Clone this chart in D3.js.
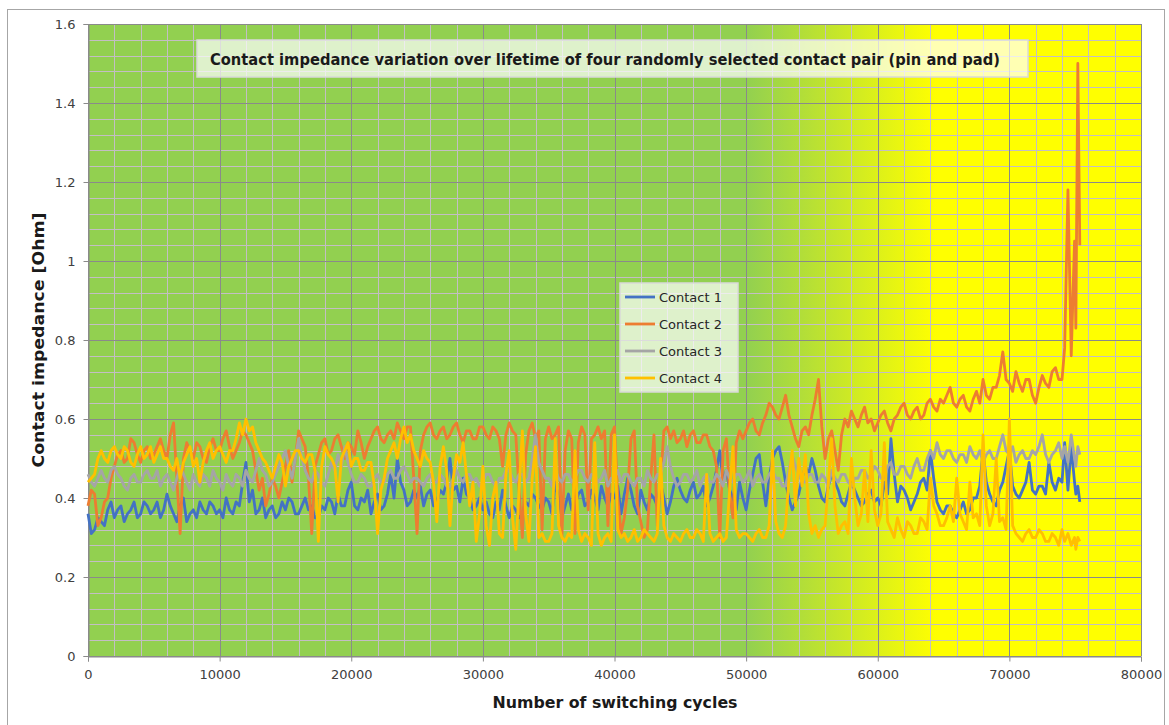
<!DOCTYPE html>
<html>
<head>
<meta charset="utf-8">
<script src="https://cdn.jsdelivr.net/npm/d3@7"></script>
<style>
  body { margin: 0; background: #ffffff; }
  text { font-family: "DejaVu Sans", "Lato", sans-serif; }
</style>
</head>
<body>
<div id="chart"></div>
<script>
// Sampling of the switching cycles (every 250 cycles, denser near the end)
const cycles = d3.range(0, 74001, 250).concat([74200, 74450, 74700, 74950, 75050, 75200, 75350]);

const seriesNames = ["Contact 1", "Contact 2", "Contact 3", "Contact 4"];
const seriesColors = ["#4472c4", "#ed7d31", "#a5a5a5", "#ffc000"];

// Contact impedance [Ohm]
const contact1 = [
  0.36,0.31, 0.32,0.35, 0.34,0.33, 0.37,0.39, 0.35,0.37, 0.38,0.34, 0.36,0.37, 0.39,0.35, 0.36,0.39, 0.38,0.36,
  0.37,0.39, 0.35,0.37, 0.41,0.38, 0.36,0.34, 0.38,0.40, 0.34,0.36, 0.37,0.35, 0.39,0.37, 0.36,0.39, 0.38,0.36,
  0.37,0.35, 0.40,0.37, 0.36,0.39, 0.38,0.44, 0.49,0.39, 0.42,0.36, 0.37,0.40, 0.35,0.37, 0.38,0.35, 0.36,0.39,
  0.37,0.40, 0.39,0.36, 0.36,0.38, 0.40,0.37, 0.38,0.35, 0.35,0.38, 0.37,0.40, 0.39,0.36, 0.41,0.38, 0.38,0.42,
  0.44,0.38, 0.37,0.40, 0.39,0.42, 0.36,0.39, 0.41,0.37, 0.38,0.41, 0.46,0.40, 0.50,0.44, 0.42,0.38, 0.39,0.42,
  0.40,0.43, 0.38,0.41, 0.42,0.38, 0.39,0.42, 0.41,0.44, 0.50,0.42, 0.43,0.39, 0.45,0.41, 0.40,0.37, 0.38,0.40,
  0.37,0.39, 0.36,0.35, 0.39,0.37, 0.42,0.38, 0.35,0.38, 0.37,0.35, 0.36,0.39, 0.38,0.41, 0.40,0.38, 0.37,0.40,
  0.39,0.36, 0.44,0.40, 0.35,0.38, 0.41,0.37, 0.38,0.41, 0.42,0.38, 0.39,0.42, 0.40,0.37, 0.43,0.40, 0.38,0.41,
  0.40,0.43, 0.36,0.41, 0.45,0.42, 0.38,0.36, 0.42,0.39, 0.37,0.41, 0.40,0.38, 0.44,0.40, 0.36,0.39, 0.43,0.45,
  0.42,0.40, 0.39,0.42, 0.44,0.40, 0.41,0.43, 0.38,0.40, 0.43,0.47, 0.52,0.44, 0.47,0.42, 0.40,0.37, 0.44,0.40,
  0.37,0.42, 0.46,0.50, 0.51,0.44, 0.38,0.45, 0.50,0.52, 0.53,0.49, 0.44,0.40, 0.37,0.39, 0.41,0.45, 0.48,0.46,
  0.50,0.47, 0.43,0.40, 0.39,0.43, 0.46,0.44, 0.42,0.39, 0.38,0.41, 0.44,0.42, 0.40,0.38, 0.39,0.41, 0.42,0.39,
  0.40,0.38, 0.44,0.41, 0.55,0.46, 0.39,0.43, 0.42,0.40, 0.37,0.39, 0.41,0.44, 0.45,0.42, 0.52,0.45, 0.39,0.37,
  0.36,0.38, 0.38,0.36, 0.35,0.37, 0.39,0.36, 0.37,0.40, 0.40,0.43, 0.52,0.44, 0.41,0.39, 0.38,0.42, 0.44,0.48,
  0.52,0.43, 0.41,0.40, 0.42,0.44, 0.49,0.42, 0.41,0.43, 0.43,0.41, 0.49,0.44, 0.42,0.45, 0.44,
  0.54, 0.42, 0.53, 0.44, 0.41, 0.43, 0.39
];

const contact2 = [
  0.38,0.42, 0.41,0.33, 0.35,0.39, 0.40,0.45, 0.48,0.51, 0.52,0.49, 0.50,0.55, 0.54,0.51, 0.49,0.52, 0.53,0.50,
  0.51,0.53, 0.55,0.52, 0.50,0.56, 0.59,0.45, 0.31,0.50, 0.54,0.52, 0.50,0.54, 0.53,0.50, 0.49,0.53, 0.55,0.52,
  0.52,0.55, 0.57,0.53, 0.50,0.52, 0.54,0.57, 0.56,0.54, 0.52,0.47, 0.42,0.45, 0.38,0.41, 0.45,0.43, 0.40,0.44,
  0.48,0.52, 0.44,0.50, 0.57,0.55, 0.53,0.45, 0.31,0.48, 0.51,0.54, 0.55,0.51, 0.52,0.55, 0.56,0.53, 0.50,0.54,
  0.53,0.51, 0.57,0.54, 0.50,0.53, 0.55,0.57, 0.58,0.55, 0.54,0.56, 0.57,0.55, 0.59,0.57, 0.55,0.58, 0.58,0.45,
  0.31,0.52, 0.56,0.58, 0.59,0.56, 0.55,0.57, 0.58,0.55, 0.56,0.58, 0.59,0.56, 0.54,0.57, 0.57,0.55, 0.55,0.58,
  0.58,0.56, 0.55,0.58, 0.57,0.55, 0.48,0.56, 0.59,0.57, 0.56,0.42, 0.30,0.51, 0.57,0.59, 0.55,0.57, 0.32,0.55,
  0.58,0.55, 0.56,0.58, 0.30,0.52, 0.57,0.55, 0.31,0.54, 0.58,0.56, 0.37,0.55, 0.56,0.58, 0.55,0.57, 0.33,0.56,
  0.58,0.40, 0.31,0.35, 0.42,0.55, 0.57,0.38, 0.34,0.30, 0.32,0.45, 0.56,0.33, 0.44,0.57, 0.58,0.55, 0.57,0.54,
  0.55,0.57, 0.53,0.56, 0.57,0.54, 0.54,0.56, 0.56,0.53, 0.52,0.48, 0.30,0.52, 0.55,0.41, 0.35,0.54, 0.57,0.55,
  0.57,0.59, 0.60,0.57, 0.56,0.59, 0.61,0.64, 0.63,0.61, 0.60,0.63, 0.66,0.61, 0.58,0.55, 0.53,0.57, 0.58,0.56,
  0.61,0.65, 0.70,0.58, 0.50,0.55, 0.57,0.52, 0.47,0.56, 0.60,0.58, 0.62,0.60, 0.58,0.61, 0.63,0.59, 0.60,0.57,
  0.59,0.61, 0.62,0.59, 0.57,0.60, 0.61,0.63, 0.64,0.61, 0.60,0.62, 0.63,0.60, 0.61,0.64, 0.65,0.63, 0.62,0.65,
  0.64,0.66, 0.68,0.64, 0.63,0.65, 0.66,0.63, 0.62,0.65, 0.67,0.64, 0.70,0.66, 0.65,0.68, 0.68,0.71, 0.77,0.70,
  0.69,0.67, 0.72,0.69, 0.67,0.70, 0.70,0.66, 0.64,0.68, 0.71,0.69, 0.68,0.72, 0.73,0.70, 0.70,
  0.78, 1.18, 0.76, 1.05, 0.83, 1.50, 1.04
];

const contact3 = [
  0.46,0.44, 0.43,0.45, 0.47,0.45, 0.44,0.47, 0.48,0.46, 0.45,0.43, 0.42,0.45, 0.46,0.44, 0.44,0.46, 0.47,0.45,
  0.45,0.47, 0.43,0.45, 0.46,0.44, 0.42,0.45, 0.48,0.46, 0.44,0.42, 0.46,0.44, 0.43,0.46, 0.45,0.43, 0.47,0.45,
  0.44,0.42, 0.46,0.44, 0.43,0.46, 0.45,0.43, 0.47,0.45, 0.44,0.47, 0.50,0.47, 0.46,0.43, 0.44,0.46, 0.48,0.50,
  0.52,0.48, 0.45,0.50, 0.55,0.50, 0.47,0.45, 0.44,0.47, 0.46,0.44, 0.43,0.46, 0.49,0.47, 0.51,0.48, 0.53,0.49,
  0.46,0.44, 0.44,0.46, 0.45,0.43, 0.43,0.45, 0.46,0.44, 0.44,0.46, 0.47,0.45, 0.45,0.47, 0.48,0.46, 0.44,0.45,
  0.45,0.44, 0.43,0.45, 0.46,0.44, 0.44,0.46, 0.45,0.43, 0.43,0.45, 0.47,0.45, 0.44,0.46, 0.46,0.44, 0.45,0.43,
  0.44,0.46, 0.46,0.44, 0.43,0.45, 0.45,0.47, 0.47,0.45, 0.44,0.46, 0.46,0.44, 0.45,0.50, 0.56,0.49, 0.47,0.45,
  0.45,0.43, 0.47,0.45, 0.44,0.46, 0.46,0.44, 0.45,0.47, 0.47,0.45, 0.44,0.46, 0.46,0.44, 0.45,0.47, 0.43,0.45,
  0.45,0.47, 0.44,0.46, 0.46,0.44, 0.43,0.45, 0.45,0.43, 0.47,0.45, 0.44,0.46, 0.46,0.49, 0.53,0.48, 0.45,0.43,
  0.44,0.46, 0.46,0.44, 0.45,0.47, 0.43,0.45, 0.46,0.44, 0.44,0.46, 0.45,0.43, 0.47,0.45, 0.44,0.46, 0.46,0.44,
  0.45,0.47, 0.43,0.45, 0.46,0.44, 0.44,0.46, 0.47,0.45, 0.45,0.43, 0.43,0.47, 0.51,0.48, 0.46,0.44, 0.44,0.46,
  0.46,0.44, 0.44,0.46, 0.45,0.43, 0.47,0.45, 0.44,0.46, 0.46,0.44, 0.43,0.45, 0.45,0.47, 0.47,0.45, 0.46,0.48,
  0.47,0.45, 0.45,0.48, 0.49,0.46, 0.46,0.48, 0.48,0.46, 0.45,0.48, 0.50,0.47, 0.47,0.50, 0.52,0.50, 0.54,0.51,
  0.50,0.52, 0.52,0.50, 0.49,0.51, 0.51,0.49, 0.53,0.51, 0.50,0.52, 0.49,0.51, 0.52,0.50, 0.50,0.53, 0.56,0.52,
  0.51,0.53, 0.49,0.51, 0.52,0.50, 0.50,0.52, 0.51,0.53, 0.56,0.51, 0.49,0.51, 0.52,0.54, 0.50,
  0.53, 0.49, 0.56, 0.50, 0.48, 0.53, 0.51
];

const contact4 = [
  0.44,0.45, 0.46,0.50, 0.52,0.50, 0.49,0.52, 0.53,0.51, 0.50,0.53, 0.52,0.49, 0.48,0.51, 0.53,0.50, 0.51,0.53,
  0.49,0.51, 0.53,0.50, 0.50,0.48, 0.47,0.50, 0.45,0.49, 0.51,0.53, 0.48,0.50, 0.44,0.49, 0.52,0.54, 0.50,0.52,
  0.53,0.51, 0.49,0.52, 0.52,0.55, 0.59,0.56, 0.60,0.57, 0.58,0.54, 0.52,0.50, 0.49,0.47, 0.45,0.48, 0.51,0.49,
  0.43,0.48, 0.50,0.52, 0.52,0.50, 0.49,0.51, 0.51,0.47, 0.29,0.48, 0.53,0.51, 0.50,0.48, 0.39,0.50, 0.52,0.54,
  0.48,0.50, 0.50,0.47, 0.47,0.49, 0.49,0.43, 0.31,0.42, 0.45,0.50, 0.52,0.54, 0.50,0.55, 0.58,0.54, 0.56,0.52,
  0.50,0.48, 0.52,0.50, 0.49,0.44, 0.34,0.48, 0.53,0.47, 0.33,0.45, 0.51,0.49, 0.54,0.46, 0.38,0.44, 0.29,0.36,
  0.48,0.33, 0.28,0.40, 0.44,0.31, 0.30,0.46, 0.52,0.35, 0.27,0.42, 0.57,0.36, 0.29,0.45, 0.53,0.30, 0.31,0.29,
  0.29,0.31, 0.55,0.33, 0.30,0.29, 0.31,0.30, 0.52,0.32, 0.29,0.31, 0.30,0.28, 0.54,0.31, 0.28,0.30, 0.31,0.29,
  0.56,0.32, 0.30,0.31, 0.29,0.30, 0.32,0.29, 0.30,0.32, 0.31,0.30, 0.29,0.31, 0.50,0.33, 0.30,0.29, 0.31,0.30,
  0.29,0.31, 0.32,0.30, 0.30,0.32, 0.31,0.29, 0.46,0.31, 0.29,0.30, 0.31,0.29, 0.30,0.42, 0.53,0.32, 0.30,0.31,
  0.31,0.30, 0.29,0.31, 0.32,0.30, 0.30,0.33, 0.52,0.34, 0.31,0.30, 0.33,0.45, 0.52,0.38, 0.50,0.43, 0.51,0.36,
  0.31,0.33, 0.30,0.32, 0.33,0.44, 0.55,0.38, 0.31,0.33, 0.34,0.31, 0.50,0.40, 0.33,0.36, 0.47,0.34, 0.52,0.37,
  0.33,0.36, 0.54,0.34, 0.32,0.30, 0.35,0.32, 0.30,0.34, 0.33,0.31, 0.31,0.35, 0.34,0.32, 0.45,0.38, 0.36,0.33,
  0.33,0.35, 0.38,0.34, 0.45,0.36, 0.34,0.32, 0.44,0.35, 0.36,0.33, 0.56,0.38, 0.33,0.36, 0.50,0.34, 0.35,0.32,
  0.60,0.33, 0.31,0.30, 0.29,0.31, 0.32,0.30, 0.30,0.32, 0.31,0.29, 0.29,0.31, 0.30,0.28, 0.32,
  0.29, 0.31, 0.28, 0.30, 0.27, 0.30, 0.29
];

const seriesValues = [contact1, contact2, contact3, contact4];

const xTicks = [0, 10000, 20000, 30000, 40000, 50000, 60000, 70000, 80000];
const yTicks = [0, 0.2, 0.4, 0.6, 0.8, 1.0, 1.2, 1.4, 1.6];

const titleText = "Contact impedance variation over lifetime of four randomly selected contact pair (pin and pad)";

// Dimensions
const width = 1169;
const height = 725;
const plot = { left: 88, right: 1141, top: 24, bottom: 656 };

const svg = d3.select("#chart")
    .append("svg")
    .attr("width", width)
    .attr("height", height);

// Scales
const x = d3.scaleLinear().domain([0, 80000]).range([plot.left, plot.right]);
const y = d3.scaleLinear().domain([0, 1.6]).range([plot.bottom, plot.top]);

// Outer chart frame
svg.append("rect")
    .attr("x", 7.5)
    .attr("y", 9.5)
    .attr("width", 1157)
    .attr("height", 740)
    .attr("fill", "#ffffff")
    .attr("stroke", "#a6a6a6")
    .attr("stroke-width", 1);

// Green -> yellow background
const defs = svg.append("defs");
const grad = defs.append("linearGradient")
    .attr("id", "bg")
    .attr("gradientUnits", "userSpaceOnUse")
    .attr("x1", x(50000)).attr("x2", x(64500))
    .attr("y1", 0).attr("y2", 0);
grad.append("stop").attr("offset", 0).attr("stop-color", "#92d050");
grad.append("stop").attr("offset", 1).attr("stop-color", "#ffff00");

svg.append("rect")
    .attr("x", plot.left)
    .attr("y", plot.top)
    .attr("width", plot.right - plot.left)
    .attr("height", plot.bottom - plot.top)
    .attr("fill", "url(#bg)");

// Minor gridlines
const minorX = d3.range(0, 80001, 2000).filter(d => d % 10000 !== 0);
const minorY = d3.range(0, 41).map(i => +(i * 0.04).toFixed(2)).filter(d => Math.abs(d / 0.2 - Math.round(d / 0.2)) > 1e-6);

const grid = svg.append("g");
grid.selectAll(".mx").data(minorX).join("line")
    .attr("x1", d => Math.round(x(d)) + 0.5).attr("x2", d => Math.round(x(d)) + 0.5)
    .attr("y1", plot.top).attr("y2", plot.bottom)
    .attr("stroke", "#c3bec4").attr("stroke-width", 1);
grid.selectAll(".my").data(minorY).join("line")
    .attr("x1", plot.left).attr("x2", plot.right)
    .attr("y1", d => Math.round(y(d)) + 0.5).attr("y2", d => Math.round(y(d)) + 0.5)
    .attr("stroke", "#c3bec4").attr("stroke-width", 1);

// Major gridlines
grid.selectAll(".Mx").data(xTicks).join("line")
    .attr("x1", d => Math.round(x(d)) + 0.5).attr("x2", d => Math.round(x(d)) + 0.5)
    .attr("y1", plot.top).attr("y2", plot.bottom)
    .attr("stroke", "#8a8a8a").attr("stroke-width", 1);
grid.selectAll(".My").data(yTicks).join("line")
    .attr("x1", plot.left).attr("x2", plot.right)
    .attr("y1", d => Math.round(y(d)) + 0.5).attr("y2", d => Math.round(y(d)) + 0.5)
    .attr("stroke", "#8a8a8a").attr("stroke-width", 1);

// Axes
const xAxis = svg.append("g")
    .attr("transform", `translate(0, ${plot.bottom + 0.5})`)
    .call(d3.axisBottom(x).tickValues(xTicks).tickFormat(d3.format("d")).tickSize(5).tickPadding(8));
const yAxis = svg.append("g")
    .attr("transform", `translate(${plot.left + 0.5}, 0)`)
    .call(d3.axisLeft(y).tickValues(yTicks).tickFormat(d => String(+d.toFixed(1))).tickSize(5).tickPadding(8));

[xAxis, yAxis].forEach(a => {
    a.select(".domain").attr("stroke", "#8a8a8a");
    a.selectAll(".tick line").attr("stroke", "#8a8a8a");
    a.selectAll(".tick text")
        .attr("fill", "#404040")
        .style("font-size", "13px")
        .style("font-family", "\"DejaVu Sans\", sans-serif");
});

// Series lines
const line = d3.line()
    .x((d, i) => x(cycles[i]))
    .y(d => y(d));

svg.append("g")
    .selectAll("path")
    .data(seriesValues)
    .join("path")
    .attr("d", d => line(d))
    .attr("fill", "none")
    .attr("stroke", (d, i) => seriesColors[i])
    .attr("stroke-width", 2.8)
    .attr("stroke-linejoin", "round");

// Title box
const title = svg.append("g");
title.append("rect")
    .attr("x", 197).attr("y", 40)
    .attr("width", 831).attr("height", 37)
    .attr("fill", "#ffffff").attr("fill-opacity", 0.7)
    .attr("stroke", "#d9d9d9").attr("stroke-width", 1.5);
title.append("text")
    .attr("x", 210).attr("y", 65)
    .attr("textLength", 790)
    .attr("lengthAdjust", "spacingAndGlyphs")
    .attr("fill", "#1a1a1a")
    .style("font-size", "15px")
    .style("font-weight", "bold")
    .text(titleText);

// Legend
const legend = svg.append("g").attr("transform", "translate(620, 283)");
legend.append("rect")
    .attr("width", 118).attr("height", 109)
    .attr("fill", "#ffffff").attr("fill-opacity", 0.7)
    .attr("stroke", "#d9d9d9").attr("stroke-width", 1.5);
seriesNames.forEach((name, i) => {
    const ly = 14 + i * 27;
    legend.append("line")
        .attr("x1", 5).attr("x2", 35)
        .attr("y1", ly).attr("y2", ly)
        .attr("stroke", seriesColors[i]).attr("stroke-width", 2.8);
    legend.append("text")
        .attr("x", 39).attr("y", ly + 5)
        .attr("fill", "#262626")
        .style("font-size", "13px")
        .text(name);
});

// Axis titles
svg.append("text")
    .attr("transform", `translate(44, ${(plot.top + plot.bottom) / 2}) rotate(-90)`)
    .attr("text-anchor", "middle")
    .attr("textLength", 255)
    .attr("lengthAdjust", "spacingAndGlyphs")
    .attr("fill", "#1a1a1a")
    .style("font-size", "16px")
    .style("font-weight", "bold")
    .text("Contact impedance [Ohm]");

svg.append("text")
    .attr("x", 615).attr("y", 708)
    .attr("text-anchor", "middle")
    .attr("textLength", 245)
    .attr("lengthAdjust", "spacingAndGlyphs")
    .attr("fill", "#1a1a1a")
    .style("font-size", "16px")
    .style("font-weight", "bold")
    .text("Number of switching cycles");
</script>
</body>
</html>
